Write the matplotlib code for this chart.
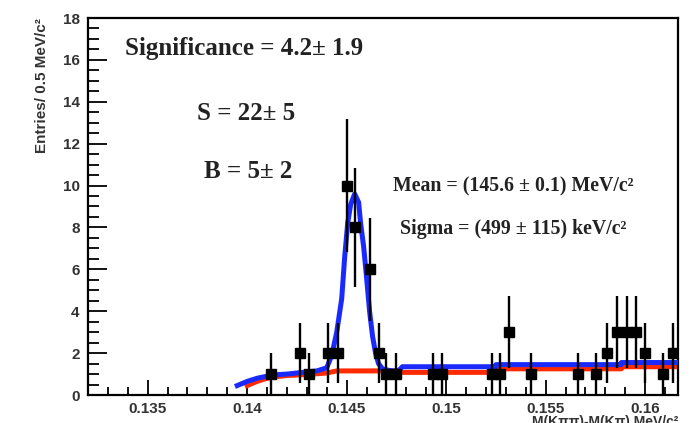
import numpy as np
import matplotlib
matplotlib.use('Agg')
import matplotlib.pyplot as plt
from matplotlib.ticker import MultipleLocator, FuncFormatter

# --- data ---
x_pts = [0.14120, 0.14265, 0.14310, 0.14405, 0.14455, 0.14500, 0.14540, 0.14615,
         0.14660, 0.14700, 0.14750, 0.14935, 0.14980, 0.15230, 0.15270, 0.15315,
         0.15425, 0.15660, 0.15755, 0.15810, 0.15860, 0.15910, 0.15955, 0.16000,
         0.16090, 0.16140]
y_pts = [1, 2, 1, 2, 2, 10, 8, 6,
         2, 1, 1, 1, 1, 1, 1, 3,
         1, 1, 1, 2, 3, 3, 3, 2,
         1, 2]
bin_half = 0.00025

# total fit (blue)
fit_x = [0.1395, 0.1400, 0.1405, 0.1410, 0.1415, 0.1420, 0.1425, 0.1430, 0.1435,
         0.1440, 0.14425, 0.1445, 0.14475, 0.1449, 0.14505, 0.1452, 0.1454, 0.1456,
         0.1457, 0.14585, 0.1460, 0.14615, 0.1463, 0.14645, 0.1466, 0.1468, 0.1470,
         0.1473, 0.1476, 0.1478, 0.1525, 0.1525, 0.1588, 0.1588, 0.1617]
fit_y = [0.45, 0.65, 0.80, 0.90, 0.97, 1.00, 1.05, 1.10, 1.15,
         1.30, 1.90, 3.00, 4.60, 6.60, 8.20, 9.10, 9.60, 9.20,
         8.20, 7.10, 5.60, 4.00, 2.80, 2.00, 1.50, 1.25, 1.20,
         1.15, 1.15, 1.35, 1.35, 1.45, 1.45, 1.55, 1.55]

# background (red)
bkg_x = [0.1400, 0.1405, 0.1410, 0.1415, 0.1420, 0.1430, 0.1440, 0.1445,
         0.1475, 0.1478, 0.1525, 0.1525, 0.1588, 0.1588, 0.1617]
bkg_y = [0.45, 0.65, 0.80, 0.88, 0.93, 0.98, 1.05, 1.15,
         1.15, 1.08, 1.08, 1.25, 1.25, 1.35, 1.35]

serif = 'Liberation Serif'
sans = 'Liberation Sans'

fig = plt.figure(figsize=(6.95, 4.23), dpi=100)
ax = fig.add_axes([88 / 695, 1 - 395 / 423, 590 / 695, 377 / 423])

ax.plot(bkg_x, bkg_y, color='#ff2a00', linewidth=3.6, zorder=2)
ax.plot(fit_x, fit_y, color='#1a2aff', linewidth=3.6, zorder=3)

ax.errorbar(x_pts, y_pts, yerr=np.sqrt(y_pts), xerr=bin_half, fmt='s', color='black',
            markersize=6.5, elinewidth=1.7, capsize=0, zorder=4)

ax.set_xlim(0.1320, 0.16165)
ax.set_ylim(0, 18)

# ROOT-like ticks
ax.xaxis.set_major_locator(MultipleLocator(0.005))
ax.xaxis.set_minor_locator(MultipleLocator(0.001))
ax.yaxis.set_major_locator(MultipleLocator(2))
ax.yaxis.set_minor_locator(MultipleLocator(0.5))
ax.xaxis.set_major_formatter(FuncFormatter(lambda v, p: ('%.3f' % v).rstrip('0')))
ax.tick_params(axis='both', which='both', direction='in', width=1.3, top=False, right=False)
ax.tick_params(axis='y', which='major', length=14, pad=6)
ax.tick_params(axis='y', which='minor', length=8)
ax.tick_params(axis='x', which='major', length=11, pad=5)
ax.tick_params(axis='x', which='minor', length=6)
for lab in ax.get_xticklabels() + ax.get_yticklabels():
    lab.set_fontfamily(sans)
    lab.set_fontweight('bold')
    lab.set_fontsize(11)
    lab.set_color('#333333')
for sp in ax.spines.values():
    sp.set_linewidth(1.6)

# axis titles (ROOT-style: aligned to the ends)
fig.text(42 / 695, 1 - 18 / 423, 'Entries/ 0.5 MeV/c\u00b2', rotation=90, ha='center', va='top',
         fontsize=11, fontweight='bold', family=sans, color='#333333')
fig.text(678 / 695, 1 - 415 / 423, 'M(K\u03c0\u03c0)-M(K\u03c0) MeV/c\u00b2', ha='right', va='top',
         fontsize=10, fontweight='bold', family=sans, color='#333333')

# fit results
big = dict(fontsize=18, fontweight='bold', family=serif, color='#222222', va='center')
small = dict(fontsize=14.3, fontweight='bold', family=serif, color='#222222', va='center')
fig.text(125 / 695, 1 - 48 / 423, 'Significance = 4.2\u00b1 1.9', **big)
fig.text(197 / 695, 1 - 113 / 423, 'S = 22\u00b1 5', **big)
fig.text(204 / 695, 1 - 172 / 423, 'B = 5\u00b1 2', **big)
fig.text(393 / 695, 1 - 186 / 423, 'Mean = (145.6 \u00b1 0.1) MeV/c\u00b2', **small)
fig.text(400 / 695, 1 - 229 / 423, 'Sigma = (499 \u00b1 115) keV/c\u00b2', **small)

fig.savefig('out.png', dpi=100)
